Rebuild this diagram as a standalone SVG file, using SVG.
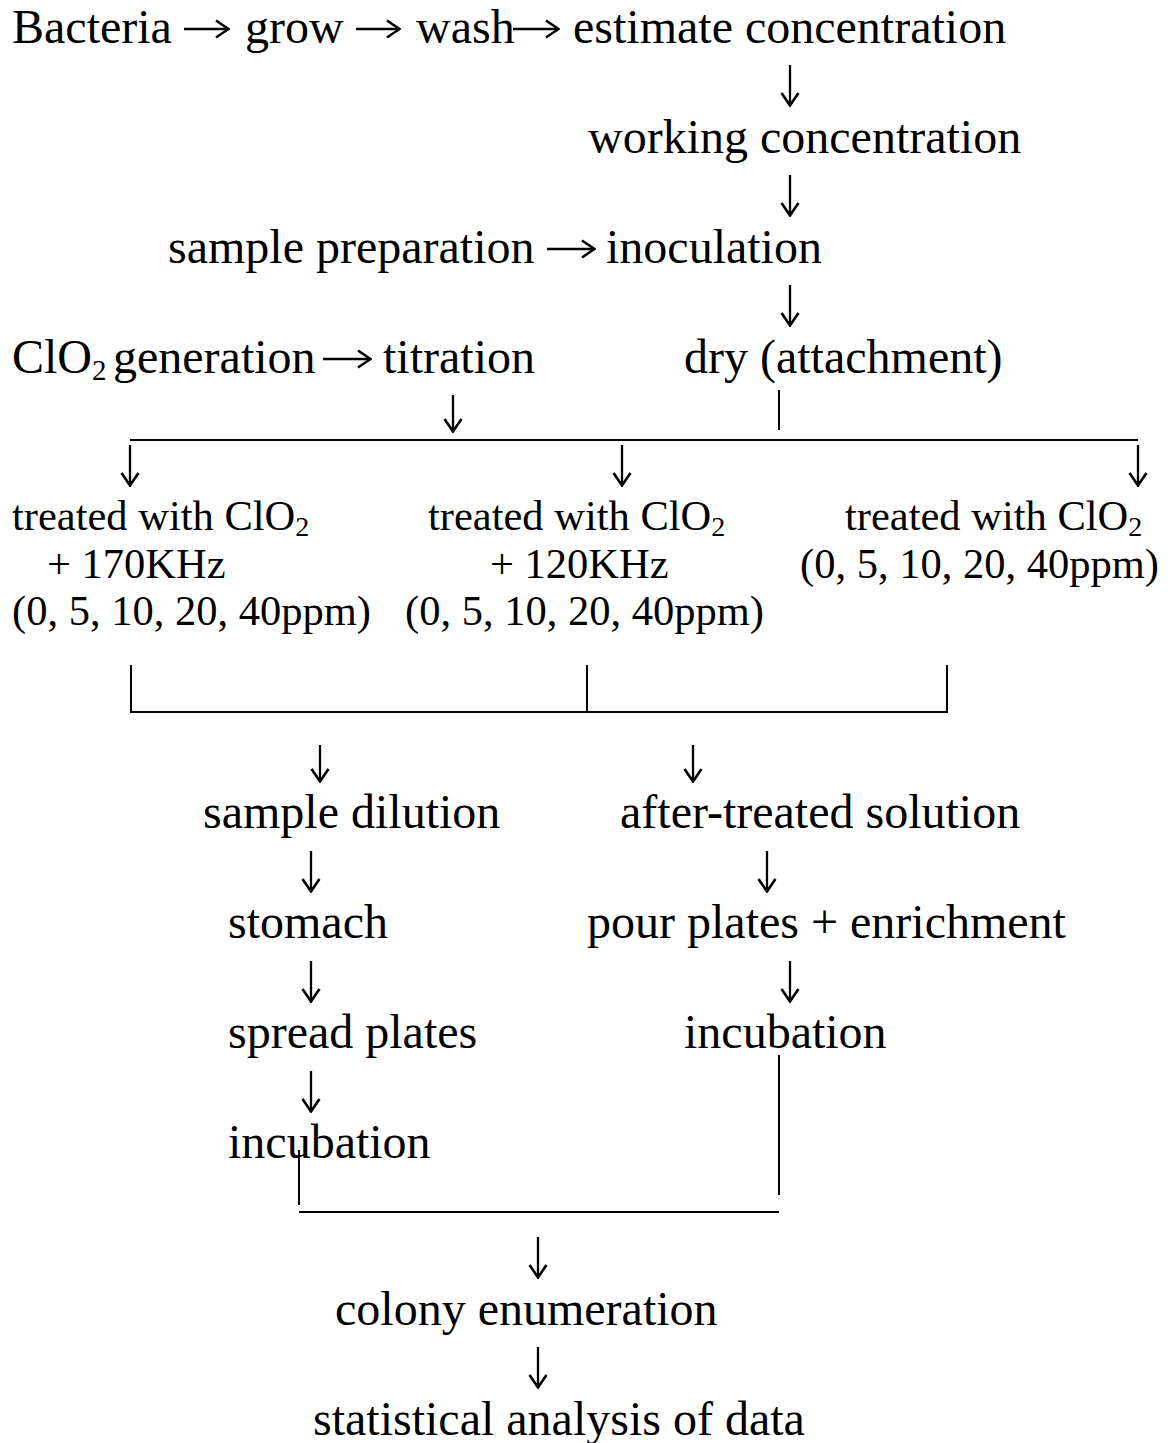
<svg xmlns="http://www.w3.org/2000/svg" width="1173" height="1443" viewBox="0 0 1173 1443">
<style>
.t{font-family:"Liberation Serif","Times New Roman",serif;font-size:48px;fill:#000}
.s{font-family:"Liberation Serif","Times New Roman",serif;font-size:42.5px;fill:#000}
.ln{stroke:#000;stroke-width:2;fill:none}
.ar{stroke:#000;stroke-width:2.3;fill:none;marker-end:url(#ah)}
</style>
<defs>
<marker id="ah" viewBox="-14 -10 16 20" refX="0" refY="0" markerWidth="16" markerHeight="20" orient="auto" markerUnits="userSpaceOnUse">
<path d="M-12,-8.5 Q-4,-3 0.5,0 Q-4,3 -12,8.5" stroke="#000" stroke-width="2.6" fill="none"/>
</marker>
</defs>
<rect width="1173" height="1443" fill="#fff"/>
<g id="n1a"><text class="t" x="12" y="43">Bacteria</text></g>
<g id="n1b"><text class="t" x="245" y="43">grow</text></g>
<g id="n1c"><text class="t" x="416" y="43">wash</text></g>
<g id="n1d"><text class="t" x="573" y="43">estimate concentration</text></g>
<g id="n2"><text class="t" x="588" y="153">working concentration</text></g>
<g id="n3a"><text class="t" x="168" y="263">sample preparation</text></g>
<g id="n3b"><text class="t" x="606" y="263">inoculation</text></g>
<g id="n4a"><text class="t" x="12" y="373">ClO<tspan x="92" font-size="29" dy="7">2</tspan><tspan x="113" dy="-7">generation</tspan></text></g>
<g id="n4b"><text class="t" x="383" y="373">titration</text></g>
<g id="n5"><text class="t" x="684" y="373">dry (attachment)</text></g>
<g id="n6"><text class="s" x="12" y="530">treated with ClO<tspan font-size="28" dy="6">2</tspan></text><text class="s" x="47" y="578">+ 170KHz</text><text class="s" x="12" y="625">(0, 5, 10, 20, 40ppm)</text></g>
<g id="n7"><text class="s" x="428" y="530">treated with ClO<tspan font-size="28" dy="6">2</tspan></text><text class="s" x="490" y="578">+ 120KHz</text><text class="s" x="405" y="625">(0, 5, 10, 20, 40ppm)</text></g>
<g id="n8"><text class="s" x="845" y="530">treated with ClO<tspan font-size="28" dy="6">2</tspan></text><text class="s" x="800" y="578">(0, 5, 10, 20, 40ppm)</text></g>
<g id="n9"><text class="t" x="203" y="828">sample dilution</text></g>
<g id="n10"><text class="t" x="620" y="828">after-treated solution</text></g>
<g id="n11"><text class="t" x="228" y="938">stomach</text></g>
<g id="n12"><text class="t" x="587" y="938">pour plates + enrichment</text></g>
<g id="n13"><text class="t" x="228" y="1048">spread plates</text></g>
<g id="n14"><text class="t" x="684" y="1048">incubation</text></g>
<g id="n15"><text class="t" x="228" y="1158">incubation</text></g>
<g id="n16"><text class="t" x="335" y="1325">colony enumeration</text></g>
<g id="n17"><text class="t" x="313" y="1435">statistical analysis of data</text></g>
<g id="connectors">
<path class="ar" d="M184 29H228"/>
<path class="ar" d="M356 29H399"/>
<path class="ar" d="M513 29H558"/>
<path class="ar" d="M547 249H594"/>
<path class="ar" d="M323 359H370"/>
<path class="ar" d="M790 65V105"/>
<path class="ar" d="M790 175V215"/>
<path class="ar" d="M790 285V325"/>
<path class="ar" d="M453 395V431"/>
<path class="ln" d="M779 390V430"/>
<path class="ln" d="M130 440H1138"/>
<path class="ar" d="M130 445V485"/>
<path class="ar" d="M622 445V485"/>
<path class="ar" d="M1138 445V485"/>
<path class="ln" d="M131 665V712H947V665M587 665V712"/>
<path class="ar" d="M320 745V781"/>
<path class="ar" d="M693 745V781"/>
<path class="ar" d="M311 851V891"/>
<path class="ar" d="M767 851V891"/>
<path class="ar" d="M311 961V1001"/>
<path class="ar" d="M790 961V1001"/>
<path class="ar" d="M311 1071V1111"/>
<path class="ln" d="M299 1150V1205M779 1055V1195M299 1212H779"/>
<path class="ar" d="M538 1237V1277"/>
<path class="ar" d="M538 1347V1387"/>
</g>
</svg>
